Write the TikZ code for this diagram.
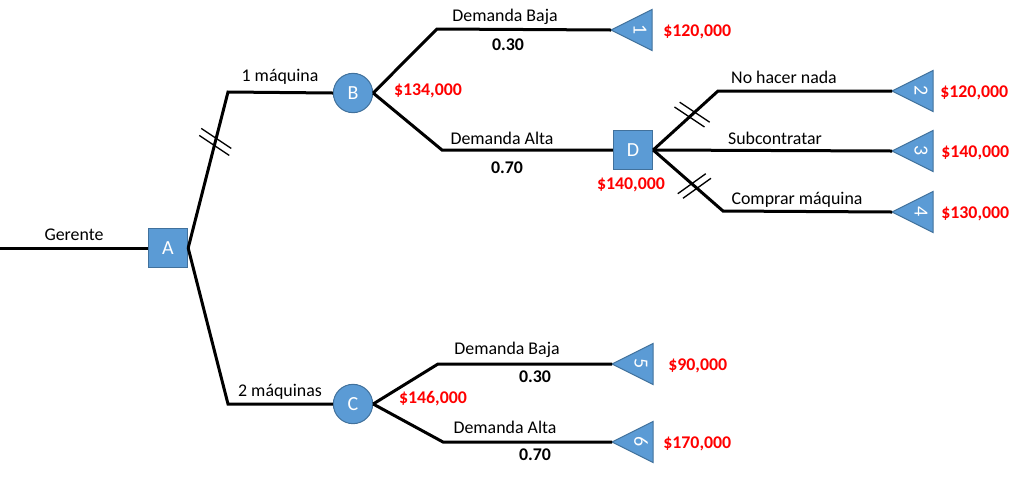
\documentclass[tikz,border=0pt]{standalone}
\usepackage{fontspec}
\setmainfont{Carlito}
\definecolor{nodeblue}{HTML}{5B9BD5}
\definecolor{nodeedge}{HTML}{41719C}
\definecolor{valred}{HTML}{FF0000}
\tikzset{
  x=0.75pt, y=-0.75pt,
  branch/.style={line width=2.25pt, line join=miter},
  slashline/.style={line width=1pt},
  decision/.style={draw=nodeedge, fill=nodeblue, line width=0.75pt, minimum size=29.5pt, inner sep=0pt, text=white, font=\fontsize{15}{18}\selectfont},
  chance/.style={decision, circle},
  lbl/.style={inner sep=0pt, font=\fontsize{13.4}{15}\selectfont},
  prob/.style={inner sep=0pt, font=\fontsize{13.4}{15}\selectfont\bfseries},
  val/.style={inner sep=0pt, text=valred, font=\fontsize{13.4}{15}\selectfont\bfseries},
  leafnum/.style={inner sep=0pt, text=white, rotate=-90, font=\fontsize{15}{18}\selectfont},
  leafshape/.style={fill=nodeblue, draw=nodeedge, line width=0.75pt, line join=miter},
}
\begin{document}
\begin{tikzpicture}
\useasboundingbox (0,0) rectangle (1024,476);
% decision / chance nodes
\node[decision] (A) at (168,248) {A};
\node[chance] (B) at (353,93) {B};
\node[chance] (C) at (353,404) {C};
\node[decision] (D) at (633,150) {D};
% corners and free end
\coordinate (start) at (0,248);
\coordinate (cB) at (228,92);
\coordinate (cC) at (228,404);
\coordinate (cB1) at (437,29);
\coordinate (cB2) at (442,150);
\coordinate (cD2) at (718,91);
\coordinate (cD4) at (723,211);
\coordinate (cC5) at (438,364);
\coordinate (cC6) at (443,442);
% leaves
\foreach \n/\tx/\ty/\vx/\v in {1/611/30/663/{\$120,000}, 2/892/91/940/{\$120,000}, 3/892/151/941/{\$140,000}, 4/892/212/941/{\$130,000}, 5/612/364/668/{\$90,000}, 6/612/442/663/{\$170,000}}{
  \coordinate (t\n) at (\tx,\ty);
  \draw[leafshape] (t\n) -- ++(41,-20.5) -- ++(0,41) -- cycle;
  \node[leafnum] (n\n) at (\tx+29,\ty) {\n};
  \node[val, anchor=west] (v\n) at (\vx,\ty+2) {\v};
}
% branches
\draw[branch] (start) -- (A.west);
\draw[branch] (A.east) -- (cB) -- (B.west);
\draw[branch] (A.east) -- (cC) -- (C.west);
\draw[branch] (B.east) -- (cB1) -- (t1);
\draw[branch] (B.east) -- (cB2) -- (D.west);
\draw[branch] (D.east) -- (cD2) -- (t2);
\draw[branch] (D.east) -- (t3);
\draw[branch] (D.east) -- (cD4) -- (t4);
\draw[branch] (C.east) -- (cC5) -- (t5);
\draw[branch] (C.east) -- (cC6) -- (t6);
% double slashes
\path (A.east) -- (cB) coordinate[pos=0.68] (s1);
\draw[slashline] ([shift={(-1,3.5)}]s1) +(-15,-10) -- +(15,10);
\draw[slashline] ([shift={(1,-3.5)}]s1) +(-15,-10) -- +(15,10);
\path (D.east) -- (cD2) coordinate[pos=0.6] (s2);
\draw[slashline] ([shift={(-2.6,2.4)}]s2) +(-15,-10) -- +(15,10);
\draw[slashline] ([shift={(2.6,-2.4)}]s2) +(-15,-10) -- +(15,10);
\path (D.east) -- (cD4) coordinate[pos=0.59] (s3);
\draw[slashline] ([shift={(-2.6,-2.3)}]s3) +(-14,10) -- +(14,-10);
\draw[slashline] ([shift={(2.6,2.3)}]s3) +(-14,10) -- +(14,-10);
% labels
\node[lbl] (lG) at (74,235) {Gerente};
\node[lbl] (l1m) at (280,77) {1 máquina};
\node[lbl] (l2m) at (280,392) {2 máquinas};
\node[lbl] (lB1) at (505,17) {Demanda Baja};
\node[prob] (pB1) at (508,45) {0.30};
\node[lbl] (lB2) at (502,138) {Demanda Alta};
\node[prob] (pB2) at (507,168) {0.70};
\node[val] (vB) at (428,91) {\$134,000};
\node[val] (vD) at (631,185) {\$140,000};
\node[lbl] (lD2) at (784,77) {No hacer nada};
\node[lbl] (lD3) at (775,138) {Subcontratar};
\node[lbl] (lD4) at (797,200) {Comprar máquina};
\node[lbl] (lC5) at (507,350) {Demanda Baja};
\node[prob] (pC5) at (535,377) {0.30};
\node[lbl] (lC6) at (505,427) {Demanda Alta};
\node[prob] (pC6) at (535,455) {0.70};
\node[val] (vC) at (433,399) {\$146,000};
\end{tikzpicture}
\end{document}
